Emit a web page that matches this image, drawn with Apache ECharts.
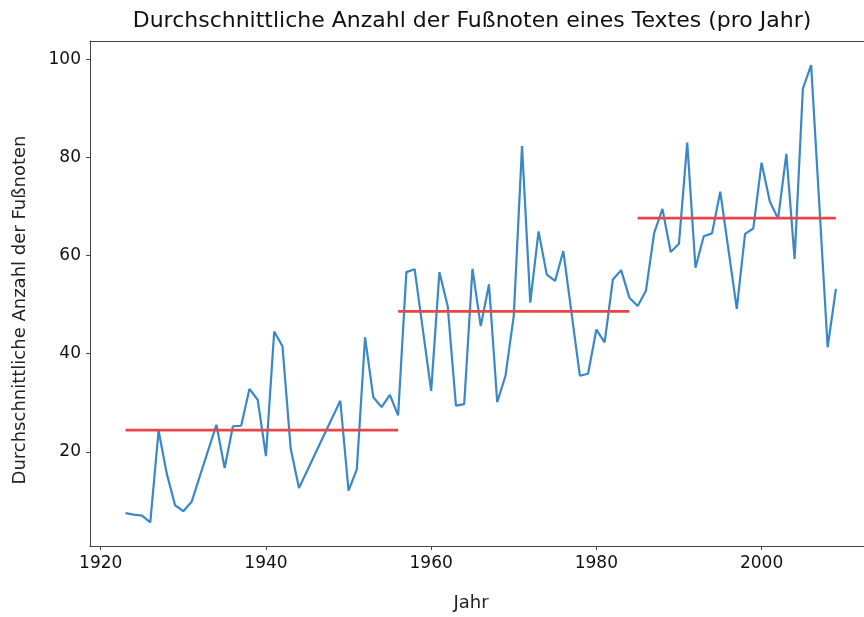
<!DOCTYPE html>
<html>
<head>
<meta charset="utf-8">
<script src="https://cdn.jsdelivr.net/npm/echarts@6/dist/echarts.min.js"></script>
<style>
  html, body { margin: 0; padding: 0; background: #fff; }
  #chart { width: 864px; height: 617px; }
</style>
</head>
<body>
<div id="chart"></div>
<script>
// Jahre mit sichtbaren Stützpunkten (Lücken = gerade Linienstücke im Original)
const years = [1923, 1924, 1925, 1926, 1927, 1928, 1929, 1930, 1931, 1934, 1935, 1936, 1937, 1938, 1939, 1940,
  1941, 1942, 1943, 1944, 1949, 1950, 1951, 1952, 1953, 1954, 1955, 1956, 1957, 1958, 1960,
  1961, 1962, 1963, 1964, 1965, 1966, 1967, 1968, 1969, 1970, 1971, 1972, 1973, 1974, 1975, 1976,
  1978, 1979, 1980, 1981, 1982, 1983, 1984, 1985, 1986, 1987, 1988, 1989, 1990,
  1991, 1992, 1993, 1994, 1995, 1997, 1998, 1999, 2000, 2001, 2002, 2003, 2004, 2005, 2006, 2008, 2009]

const footnotes = [7.5, 7.2, 7.0, 5.6, 24.3, 15.5, 9.1, 7.9, 9.8, 25.5, 16.7, 25.2, 25.3, 32.8, 30.6, 19.1,
  44.5, 41.5, 20.6, 12.6, 30.4, 12.1, 16.4, 43.3, 31.1, 29.1, 31.6, 27.4, 56.6, 57.2, 32.4,
  56.6, 49.7, 29.4, 29.7, 57.3, 45.6, 54.1, 30.1, 35.5, 47.7, 82.3, 50.4, 64.9, 56.1, 54.8, 60.9,
  35.5, 35.9, 44.9, 42.3, 55.1, 57.0, 51.4, 49.7, 52.8, 64.6, 69.5, 60.7, 62.4,
  83.0, 57.5, 63.9, 64.5, 73.0, 49.1, 64.4, 65.5, 78.9, 71.0, 67.5, 80.7, 59.3, 94.0, 98.8, 41.3, 53.2]

// Mittelwerte je Zeitraum (rote Linien)
const periodStart = [1923, 1956, 1985]
const periodEnd = [1956, 1984, 2009]
const periodMean = [24.4, 48.6, 67.6]

const xTicks = [1920, 1940, 1960, 1980, 2000]
const yTicks = [20, 40, 60, 80, 100]

const font = 'DejaVu Sans'
const frame = { show: true, lineStyle: { color: '#444', width: 1 } }

const meanData = []
periodStart.forEach((s, i) => {
  meanData.push([s, periodMean[i]], [periodEnd[i], periodMean[i]])
  if (i < periodStart.length - 1) meanData.push([periodEnd[i], null])
})

const chart = echarts.init(document.getElementById('chart'))

chart.setOption({
  animation: false,
  backgroundColor: '#fff',
  title: {
    text: 'Durchschnittliche Anzahl der Fußnoten eines Textes (pro Jahr)',
    left: 467,
    top: 5,
    textAlign: 'center',
    textStyle: { fontFamily: font, fontSize: 22, fontWeight: 'normal', color: '#111' }
  },
  // y-Achsentitel frei platziert (im Original leicht unterhalb der Achsenmitte)
  graphic: [{
    type: 'text',
    x: 20,
    y: 310,
    rotation: Math.PI / 2,
    style: {
      text: 'Durchschnittliche Anzahl der Fußnoten',
      font: '18px "DejaVu Sans"',
      fill: '#222',
      align: 'center',
      verticalAlign: 'middle'
    }
  }],
  grid: { left: 90, right: 0, top: 41, bottom: 68 },
  xAxis: [
    {
      type: 'value',
      min: 1918.7,
      max: 2012.4,
      name: 'Jahr',
      nameLocation: 'middle',
      nameGap: 48,
      nameTextStyle: { fontFamily: font, fontSize: 18, color: '#222', padding: [0, 12, 0, 0] },
      axisLine: frame,
      axisTick: { show: true, length: 4, customValues: xTicks, lineStyle: { color: '#444' } },
      axisLabel: {
        customValues: xTicks, fontFamily: font, fontSize: 17, color: '#111', margin: 9,
        formatter: v => String(v)
      },
      splitLine: { show: false }
    },
    {
      // nur obere Rahmenlinie
      type: 'value',
      position: 'top',
      min: 1918.7,
      max: 2012.4,
      axisLine: frame,
      axisTick: { show: false },
      axisLabel: { show: false },
      splitLine: { show: false }
    }
  ],
  yAxis: {
    type: 'value',
    min: 0.8,
    max: 103.7,
    axisLine: frame,
    axisTick: { show: true, length: 4, customValues: yTicks, lineStyle: { color: '#444' } },
    axisLabel: { customValues: yTicks, fontFamily: font, fontSize: 17, color: '#111', margin: 9 },
    splitLine: { show: false }
  },
  series: [
    {
      type: 'line',
      data: years.map((y, i) => [y, footnotes[i]]),
      showSymbol: false,
      lineStyle: { color: '#3a88c8', width: 2.2 }
    },
    {
      type: 'line',
      data: meanData,
      showSymbol: false,
      connectNulls: false,
      lineStyle: { color: '#e8474a', width: 2.8 }
    }
  ]
})
</script>
</body>
</html>
